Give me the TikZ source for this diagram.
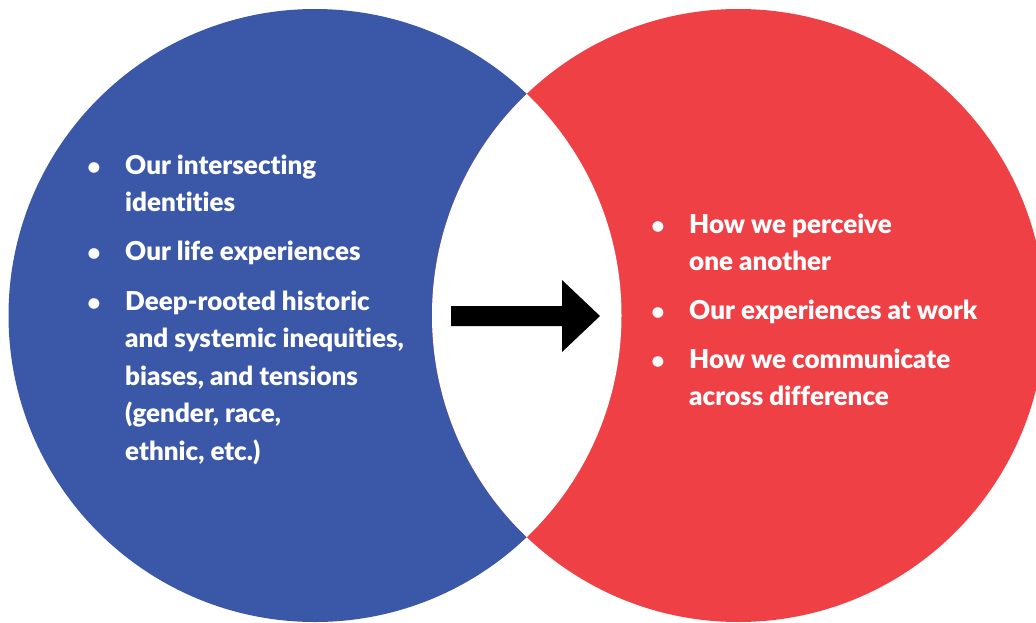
\documentclass[tikz,border=0pt]{standalone}
\usepackage{fontspec}
\setmainfont{Lato}[BoldFont={Lato Black},Ligatures=NoCommon]
\definecolor{vennblue}{RGB}{59,87,167}
\definecolor{vennred}{RGB}{239,64,70}
\tikzset{
  itemtext/.style={anchor=base west,align=left,inner sep=0pt,text=white,
    font=\bfseries\fontsize{26}{37.5}\selectfont},
  dot/.style={anchor=base,inner sep=0pt,text=white,
    font=\bfseries\fontsize{22}{37.5}\selectfont},
}
\begin{document}
\begin{tikzpicture}[x=1pt,y=-1pt]
  \useasboundingbox (0,0) rectangle (1036,622);
  % the two circles, overlap left white
  \fill[vennblue] (315,315.5) circle[radius=306.5pt];
  \fill[vennred] (738.5,315.5) circle[radius=306.5pt];
  \begin{scope}
    \clip (315,315.5) circle[radius=306.5pt];
    \fill[white] (738.5,315.5) circle[radius=306.5pt];
  \end{scope}
  % arrow in the overlap
  \fill[black] (451,306) -- (562,306) -- (562,280) -- (600,316)
    -- (562,352) -- (562,326) -- (451,326) -- cycle;
  % left list (text nodes sit on the baseline of their last line)
  \node[dot] (b1) at (94,174.7) {\textbullet};
  \node[itemtext] (l1) at (125,211.5) {Our intersecting\\identities};
  \node[dot] (b2) at (94,260) {\textbullet};
  \node[itemtext] (l2) at (125,260) {Our life experiences};
  \node[dot] (b3) at (94,310) {\textbullet};
  \node[itemtext] (l3) at (125,460) {Deep-rooted historic\\and systemic inequities,\\biases, and tensions\\(gender, race,\\ethnic, etc.)};
  % right list
  \node[dot] (c1) at (658,233) {\textbullet};
  \node[itemtext] (r1) at (689,270.5) {How we perceive\\one another};
  \node[dot] (c2) at (658,319.3) {\textbullet};
  \node[itemtext] (r2) at (689,319.3) {Our experiences at work};
  \node[dot] (c3) at (658,368.3) {\textbullet};
  \node[itemtext] (r3) at (689,405.8) {How we communicate\\across difference};
\end{tikzpicture}
\end{document}
